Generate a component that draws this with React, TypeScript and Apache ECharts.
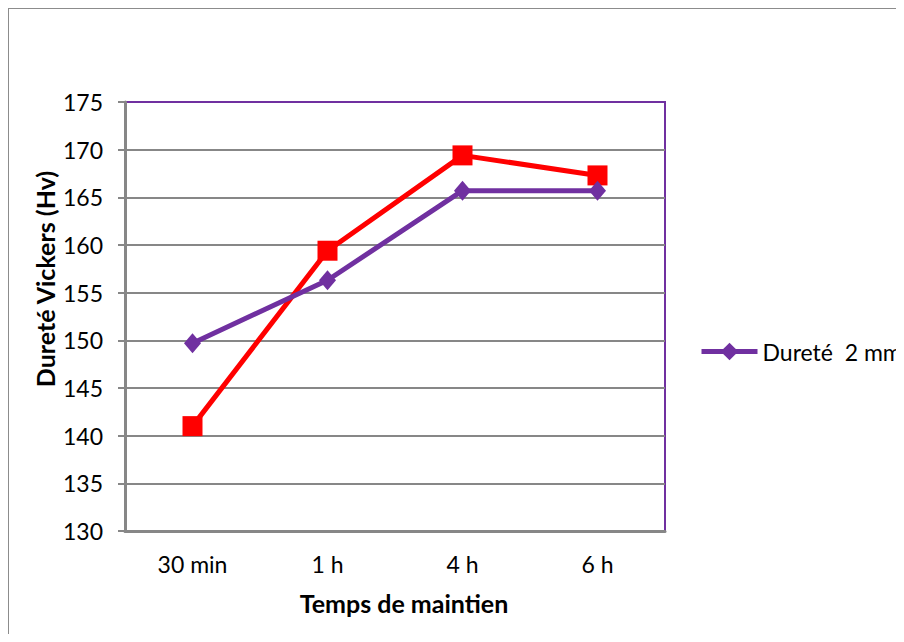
import React, { useEffect, useRef } from "react";
import * as echarts from "echarts";

// Holding times on the x axis
const categories = ["30 min", "1 h", "4 h", "6 h"];
// Vickers hardness (Hv) for the two series
const hardness2mm = [149.7, 156.3, 165.7, 165.7];
const hardnessOther = [141.0, 159.4, 169.4, 167.3];
// Value axis range
const yMin = 130;
const yMax = 175;
const yStep = 5;

const FONT = "Lato, 'Noto Sans', sans-serif";
const GRAY = "#878787";
const PURPLE = "#7030a0";
const RED = "#ff0000";

export default function App() {
  const ref = useRef<HTMLDivElement>(null);

  useEffect(() => {
    if (!ref.current) return;
    const chart = echarts.init(ref.current, undefined, { renderer: "svg" });

    const splitColors: string[] = [];
    for (let v = yMin; v <= yMax; v += yStep) {
      splitColors.push(v === yMax ? PURPLE : GRAY);
    }

    chart.setOption({
      animation: false,
      backgroundColor: "#ffffff",
      grid: {
        left: 116,
        top: 93,
        width: 540,
        height: 429,
        show: true,
        borderColor: PURPLE,
        borderWidth: 2,
        backgroundColor: "transparent",
      },
      legend: {
        show: true,
        data: ["Dureté  2 mm"],
        left: 690,
        top: 331,
        padding: 0,
        itemWidth: 56,
        itemHeight: 22,
        itemGap: 4,
        lineStyle: { width: 5 },
        textStyle: { fontFamily: FONT, fontSize: 23, color: "#000" },
      },
      xAxis: {
        type: "category",
        data: categories,
        boundaryGap: true,
        axisLine: { show: true, lineStyle: { color: GRAY, width: 3 } },
        axisTick: { show: false },
        axisLabel: {
          fontFamily: FONT,
          fontSize: 23,
          color: "#000",
          margin: 21,
        },
        splitLine: { show: false },
      },
      yAxis: {
        type: "value",
        min: yMin,
        max: yMax,
        interval: yStep,
        axisLine: { show: true, lineStyle: { color: GRAY, width: 3 } },
        axisTick: {
          show: true,
          inside: false,
          length: 7,
          lineStyle: { color: GRAY, width: 2 },
        },
        axisLabel: {
          fontFamily: FONT,
          fontSize: 23,
          color: "#000",
          margin: 22,
        },
        splitLine: {
          show: true,
          lineStyle: { color: splitColors, width: 2 },
        },
      },
      graphic: [
        {
          type: "text",
          x: 36,
          y: 270,
          rotation: Math.PI / 2,
          style: {
            text: "Dureté Vickers (Hv)",
            fontFamily: FONT,
            fontSize: 25,
            fontWeight: "bold",
            fill: "#000",
            align: "center",
            verticalAlign: "middle",
          },
        },
        {
          type: "text",
          x: 395,
          y: 594,
          style: {
            text: "Temps de maintien",
            fontFamily: FONT,
            fontSize: 25,
            fontWeight: "bold",
            fill: "#000",
            align: "center",
            verticalAlign: "middle",
          },
        },
      ],
      series: [
        {
          name: "Dureté  4 mm",
          type: "line",
          data: hardnessOther,
          symbol: "rect",
          symbolSize: 20,
          lineStyle: { color: RED, width: 5 },
          itemStyle: { color: RED },
          z: 3,
        },
        {
          name: "Dureté  2 mm",
          type: "line",
          data: hardness2mm,
          symbol: "diamond",
          symbolSize: [17, 20],
          lineStyle: { color: PURPLE, width: 5 },
          itemStyle: { color: PURPLE },
          z: 4,
        },
      ],
    });

    return () => chart.dispose();
  }, []);

  return (
    <div
      style={{
        width: 896,
        height: 634,
        marginBottom: -8,
        borderTop: "1px solid #8c8c8c",
        borderLeft: "1px solid #8c8c8c",
        boxSizing: "border-box",
        overflow: "hidden",
      }}
    >
      <div ref={ref} style={{ width: 895, height: 633 }} />
    </div>
  );
}
